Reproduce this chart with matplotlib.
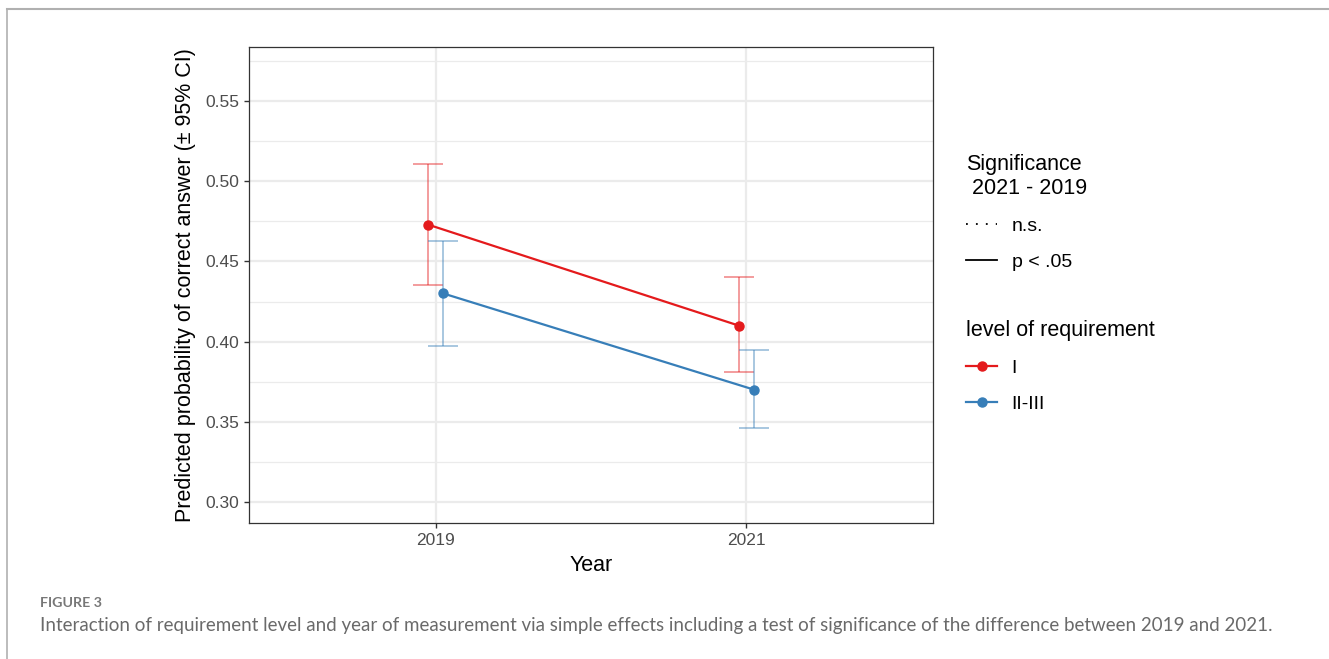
import matplotlib.pyplot as plt
from matplotlib.lines import Line2D

# predicted probabilities and 95% CI per year and requirement level
years = ['2019', '2021']
levels = ['I', 'II-III']
estimates = {'I': [0.473, 0.410], 'II-III': [0.430, 0.370]}
ci_low = {'I': [0.435, 0.381], 'II-III': [0.397, 0.346]}
ci_high = {'I': [0.511, 0.440], 'II-III': [0.463, 0.395]}
colors = {'I': '#E41A1C', 'II-III': '#377EB8'}
dodge = {'I': -0.025, 'II-III': 0.025}

plt.rcParams['font.family'] = ['Liberation Sans', 'DejaVu Sans']

fig = plt.figure(figsize=(13.29, 6.59), dpi=100)
ax = fig.add_axes([0.1874, 0.2064, 0.5146, 0.7223])

for lev in levels:
    xs = [i + dodge[lev] for i in range(len(years))]
    y = estimates[lev]
    lo = [a - b for a, b in zip(y, ci_low[lev])]
    hi = [b - a for a, b in zip(y, ci_high[lev])]
    ax.errorbar(xs, y, yerr=[lo, hi], fmt='none', ecolor=colors[lev],
                alpha=0.55, elinewidth=1.1, capsize=11, capthick=1.1, zorder=3)
    ax.plot(xs, y, color=colors[lev], lw=1.6, ls='-', marker='o', ms=6.5, zorder=4)

ax.set_xlim(-0.6, 1.6)
ax.set_ylim(0.2869, 0.5837)
ax.set_xticks(range(len(years)))
ax.set_xticklabels(years)
ax.set_yticks([0.30, 0.35, 0.40, 0.45, 0.50, 0.55])
ax.set_yticklabels(['0.30', '0.35', '0.40', '0.45', '0.50', '0.55'])
ax.set_yticks([0.325, 0.375, 0.425, 0.475, 0.525, 0.575], minor=True)
ax.set_xticks([-0.5, 0.5, 1.5], minor=True)
ax.tick_params(axis='both', which='major', labelsize=12.5, labelcolor='#4D4D4D',
               color='#333333', length=3.5, width=1)
ax.tick_params(axis='both', which='minor', length=0)
ax.grid(True, which='major', color='#EBEBEB', lw=1.6)
ax.grid(True, which='minor', axis='y', color='#EBEBEB', lw=0.9)
ax.set_axisbelow(True)
for s in ax.spines.values():
    s.set_color('#333333')
    s.set_linewidth(0.9)

ax.set_xlabel('Year', fontsize=15.5, labelpad=5)
ax.set_ylabel('Predicted probability of correct answer (± 95% CI)', fontsize=15.5, labelpad=7)

# legends
sig_handles = [Line2D([], [], color='black', lw=1.3, ls=(0, (1, 4.5))),
               Line2D([], [], color='black', lw=1.3, ls='-')]
fig.legend(sig_handles, ['n.s.', 'p < .05'], title='Significance\n 2021 - 2019',
           loc='upper left', bbox_to_anchor=(0.7269, 0.7665), frameon=False,
           fontsize=14, title_fontsize=15.5, alignment='left',
           borderpad=0, borderaxespad=0,
           handlelength=1.6, handletextpad=0.75, labelspacing=0.95)
lev_handles = [Line2D([], [], color=colors[l], lw=1.6, marker='o', ms=6.5) for l in levels]
fig.legend(lev_handles, levels, title='level of requirement',
           loc='upper left', bbox_to_anchor=(0.7269, 0.5145), frameon=False,
           fontsize=14, title_fontsize=15.5, alignment='left',
           borderpad=0, borderaxespad=0,
           handlelength=1.6, handletextpad=0.75, labelspacing=0.95)

# page frame and caption
fig.add_artist(Line2D([7 / 1329, 1], [1 - 9 / 659, 1 - 9 / 659], color='#B0B0B0', lw=1.5))
fig.add_artist(Line2D([7 / 1329, 7 / 1329], [0, 1 - 9 / 659], color='#B0B0B0', lw=1.2))
fig.text(40 / 1329, 1 - 603 / 659, 'FIGURE 3', fontsize=10.3, fontweight='bold',
         color='#777777', family=['Lato', 'DejaVu Sans'], va='center')
fig.text(40 / 1329, 1 - 626 / 659,
         'Interaction of requirement level and year of measurement via simple effects '
         'including a test of significance of the difference between 2019 and 2021.',
         fontsize=13.5, color='#6A6A6A', family=['Lato', 'DejaVu Sans'], va='center')

fig.savefig('out.png', dpi=100)
